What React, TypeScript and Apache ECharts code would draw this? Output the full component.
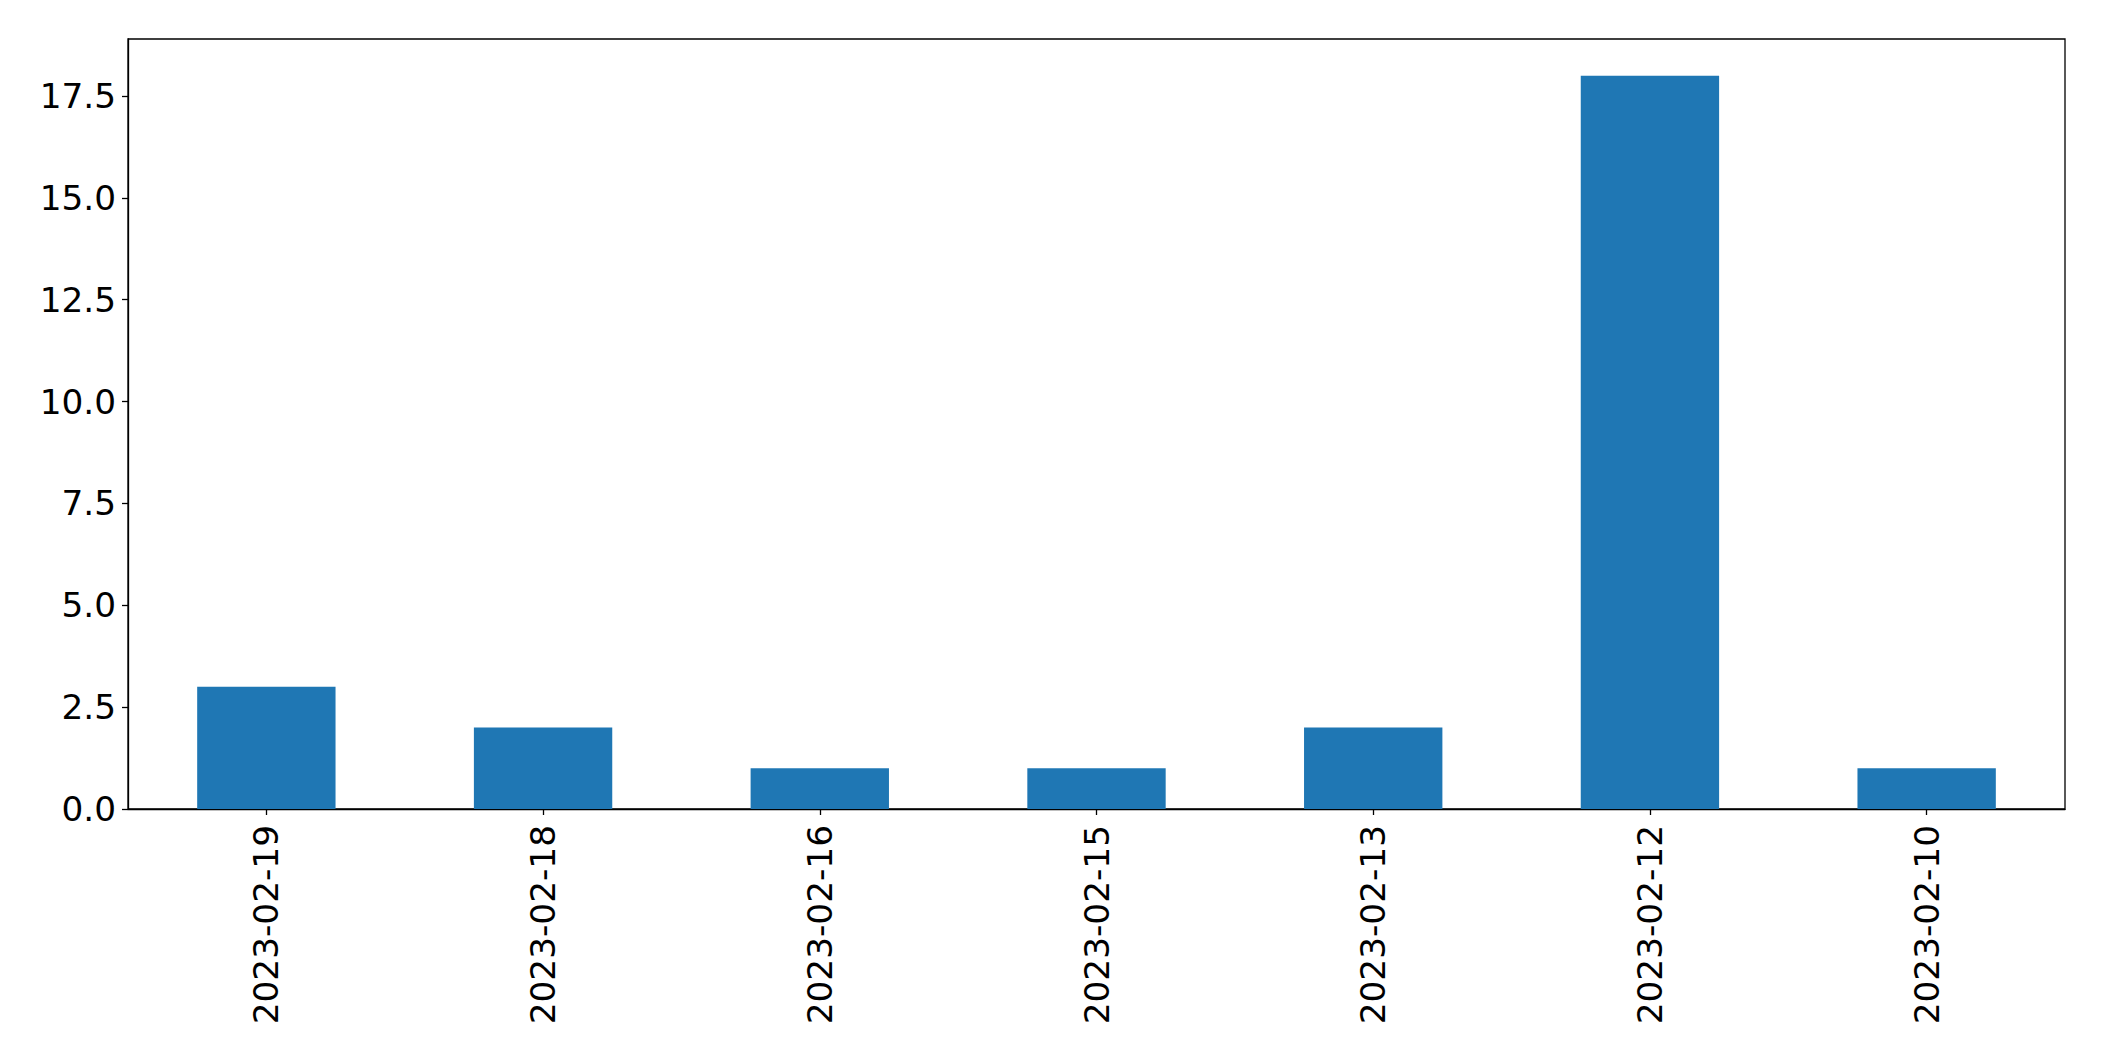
import React, { useEffect, useRef } from "react";
import * as echarts from "echarts";

const categories = ["2023-02-19", "2023-02-18", "2023-02-16", "2023-02-15", "2023-02-13", "2023-02-12", "2023-02-10"];
const counts = [3, 2, 1, 1, 2, 18, 1];
const yTicks = [0, 2.5, 5, 7.5, 10, 12.5, 15, 17.5];
const yMax = 18.9;

export default function App() {
  const ref = useRef<HTMLDivElement>(null);
  useEffect(() => {
    if (!ref.current) return;
    const chart = echarts.init(ref.current, null, { renderer: "svg" });
    const font = "DejaVu Sans";
    chart.setOption({
      animation: false,
      backgroundColor: "#ffffff",
      grid: {
        left: 128,
        top: 39,
        right: 39,
        bottom: 252,
        show: true,
        borderColor: "#000000",
        borderWidth: 1.3,
        backgroundColor: "transparent",
      },
      xAxis: {
        type: "category",
        data: categories,
        boundaryGap: true,
        axisLine: { show: true, lineStyle: { color: "#000000", width: 1.3 } },
        axisTick: { show: true, alignWithLabel: true, length: 6, lineStyle: { color: "#000000", width: 1.3 } },
        axisLabel: {
          rotate: 90,
          margin: 16,
          color: "#000000",
          fontFamily: font,
          fontSize: 34.3,
          interval: 0,
        },
        splitLine: { show: false },
      },
      yAxis: {
        type: "value",
        min: 0,
        max: yMax,
        interval: 2.5,
        axisLine: { show: true, lineStyle: { color: "#000000", width: 1.3 } },
        axisTick: { show: true, length: 6, customValues: yTicks, lineStyle: { color: "#000000", width: 1.3 } },
        axisLabel: {
          customValues: yTicks,
          margin: 12,
          color: "#000000",
          fontFamily: font,
          fontSize: 34.3,
          formatter: (v: number) => v.toFixed(1),
        },
        splitLine: { show: false },
      },
      series: [
        {
          type: "bar",
          data: counts,
          barWidth: "50%",
          itemStyle: { color: "#1f77b4" },
        },
      ],
    });
    return () => chart.dispose();
  }, []);
  return (
    <div
      ref={ref}
      style={{ position: "absolute", left: 0, top: 0, width: 2104, height: 1061 }}
    />
  );
}
